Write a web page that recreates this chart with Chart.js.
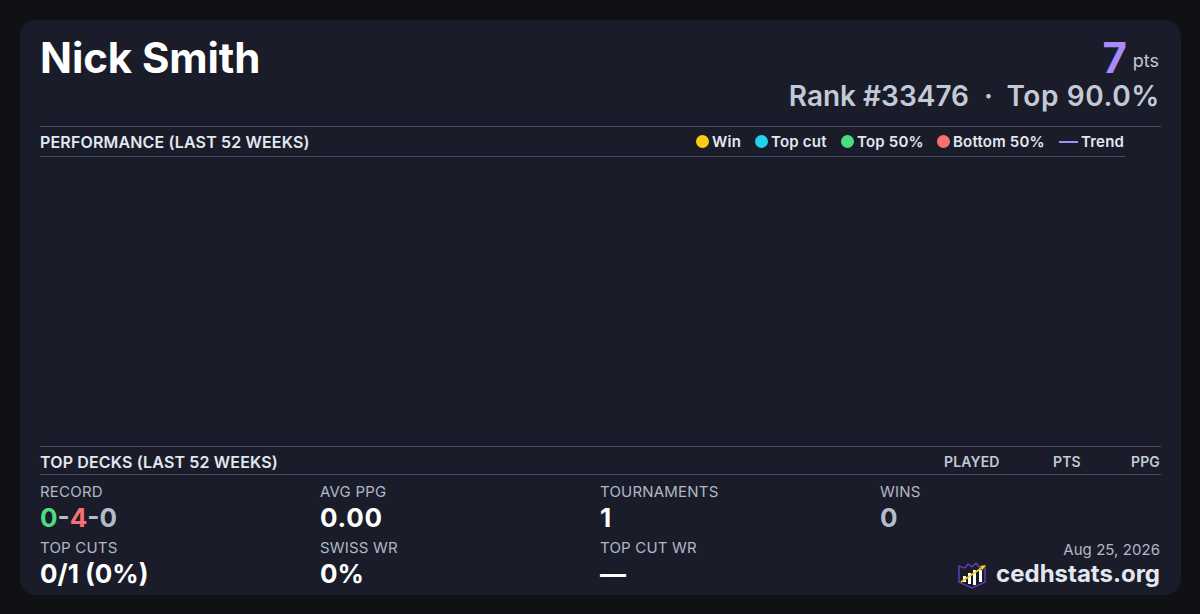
<!DOCTYPE html>
<html><head><meta charset="utf-8">
<script src="https://cdn.jsdelivr.net/npm/chart.js@4"></script>
<style>
html,body{margin:0;padding:0;background:#0f1115;width:1200px;height:614px;overflow:hidden;font-family:Inter,sans-serif;font-optical-sizing:none}
#card{position:absolute;left:20px;top:20px;width:1161px;height:575px;background:#1a1d29;border-radius:16px}
.t{position:absolute;white-space:nowrap;line-height:1}
.r{text-align:right}
.rule{position:absolute;height:1px;background:#3f4c63}
.lab{font-size:15px;color:#b0b8c6;font-weight:400;letter-spacing:.2px}
.val{font-size:26px;color:#fff;font-weight:700}
.sec{font-size:16px;color:#e2e8f0;font-weight:600;letter-spacing:.15px}
.col{font-size:14px;color:#c3cad7;font-weight:600;letter-spacing:.15px}
#legend span{position:absolute;top:134px;font-size:15px;font-weight:600;color:#e2e8f0;line-height:16px;white-space:nowrap;letter-spacing:.2px}
#legend i{position:absolute;top:135px;width:13px;height:13px;border-radius:50%}
#legend b{position:absolute;top:141px;width:19px;height:2px}
#wrap{position:absolute;left:40px;top:157px;width:1085px;height:289px}
</style></head><body>
<div id="card"></div>
<div class="t" style="left:40px;top:37px;font-size:42px;font-weight:700;color:#fff;letter-spacing:-.1px">Nick Smith</div>
<div class="t" style="right:73px;top:37px;font-size:42px;font-weight:700;color:#a78bfa">7</div>
<div class="t" style="right:41px;top:52px;font-size:18px;color:#c3cad7">pts</div>
<div class="t" style="right:231px;top:82px;font-size:28px;font-weight:600;color:#c3cad7">Rank #33476</div>
<div class="t" style="left:984px;top:82px;font-size:28px;font-weight:600;color:#c3cad7">·</div>
<div class="t" style="right:40px;top:82px;font-size:28px;font-weight:600;color:#c3cad7;letter-spacing:.6px">Top 90.0%</div>
<div class="rule" style="left:40px;top:126px;width:1121px"></div>
<div class="t sec" style="left:40px;top:134px">PERFORMANCE (LAST 52 WEEKS)</div>
<div id="legend"></div>
<div class="rule" style="left:40px;top:156px;width:1085px"></div>
<div id="wrap"><canvas id="c"></canvas></div>
<div class="rule" style="left:40px;top:446px;width:1121px"></div>
<div class="t sec" style="left:40px;top:454px">TOP DECKS (LAST 52 WEEKS)</div>
<div class="t col" style="left:944px;top:455px">PLAYED</div>
<div class="t col" style="left:1053px;top:455px">PTS</div>
<div class="t col" style="right:40px;top:455px">PPG</div>
<div class="rule" style="left:40px;top:474px;width:1121px"></div>
<div class="t lab" style="left:40px;top:484px">RECORD</div>
<div class="t val" style="left:40px;top:505px"><span style="color:#4ade80">0</span><span style="color:#b4bccc">-</span><span style="color:#f87171">4</span><span style="color:#b4bccc">-0</span></div>
<div class="t lab" style="left:320px;top:484px">AVG PPG</div>
<div class="t val" style="left:320px;top:505px;letter-spacing:.8px">0.00</div>
<div class="t lab" style="left:600px;top:484px">TOURNAMENTS</div>
<div class="t val" style="left:600px;top:505px">1</div>
<div class="t lab" style="left:880px;top:484px">WINS</div>
<div class="t val" style="left:880px;top:505px;color:#b4bccc">0</div>
<div class="t lab" style="left:40px;top:540px">TOP CUTS</div>
<div class="t val" style="left:40px;top:561px">0/1</div>
<div class="t val" style="left:85px;top:561px">(0%)</div>
<div class="t lab" style="left:320px;top:540px">SWISS WR</div>
<div class="t val" style="left:320px;top:561px">0%</div>
<div class="t lab" style="left:600px;top:540px">TOP CUT WR</div>
<div class="t val" style="left:600px;top:561px">—</div>
<div class="t lab r" style="right:40px;top:542px;letter-spacing:.05px">Aug 25, 2026</div>
<div class="t" style="right:40px;top:562px;font-size:24px;font-weight:700;color:#e2e8f0">cedhstats.org</div>
<svg style="position:absolute;left:957px;top:560px" width="30" height="30" viewBox="0 0 30 30">
<path d="M2 6 L8 8 L11 4 L15 7 L19 3 L22 7 L28 6 V22 L15 28 L2 22 Z" fill="none" stroke="#6d3fc4" stroke-width="1.300"/>
<rect x="6" y="16" width="3" height="6" fill="#fff"/><rect x="11" y="13" width="3" height="11" fill="#fff"/><rect x="16" y="10" width="3" height="15" fill="#fff"/><rect x="22" y="10" width="3" height="12" fill="#fff"/>
<path d="M4 22 L26 7" stroke="#facc15" stroke-width="1.600"/><path d="M29 5 L23 6 L25.500 10 Z" fill="#facc15"/>
</svg>
<script>
const weeks = [];
const seriesNames = ["Win", "Top cut", "Top 50%", "Bottom 50%", "Trend"];
const seriesColors = ["#facc15", "#22d3ee", "#4ade80", "#f87171", "#a78bfa"];
const seriesValues = [[], [], [], [], []];
const legendSwatchX = [696, 755, 841, 937, 1059];
const legendTextX = [712, 771, 857, 953, 1081];

const lg = document.getElementById('legend');
seriesNames.forEach((n, k) => {
  const m = document.createElement(n === 'Trend' ? 'b' : 'i');
  m.style.left = legendSwatchX[k] + 'px';
  m.style.background = seriesColors[k];
  lg.appendChild(m);
  const s = document.createElement('span');
  s.style.left = legendTextX[k] + 'px';
  s.textContent = n;
  lg.appendChild(s);
});

new Chart(document.getElementById('c'), {
  data: {
    labels: weeks,
    datasets: seriesNames.map((n, k) => ({
      type: n === 'Trend' ? 'line' : 'scatter',
      label: n,
      data: seriesValues[k],
      borderColor: seriesColors[k],
      backgroundColor: seriesColors[k]
    }))
  },
  options: {
    responsive: true,
    maintainAspectRatio: false,
    animation: false,
    plugins: { legend: { display: false }, tooltip: { enabled: false } },
    scales: { x: { display: false }, y: { display: false } }
  }
});
</script>
</body></html>
